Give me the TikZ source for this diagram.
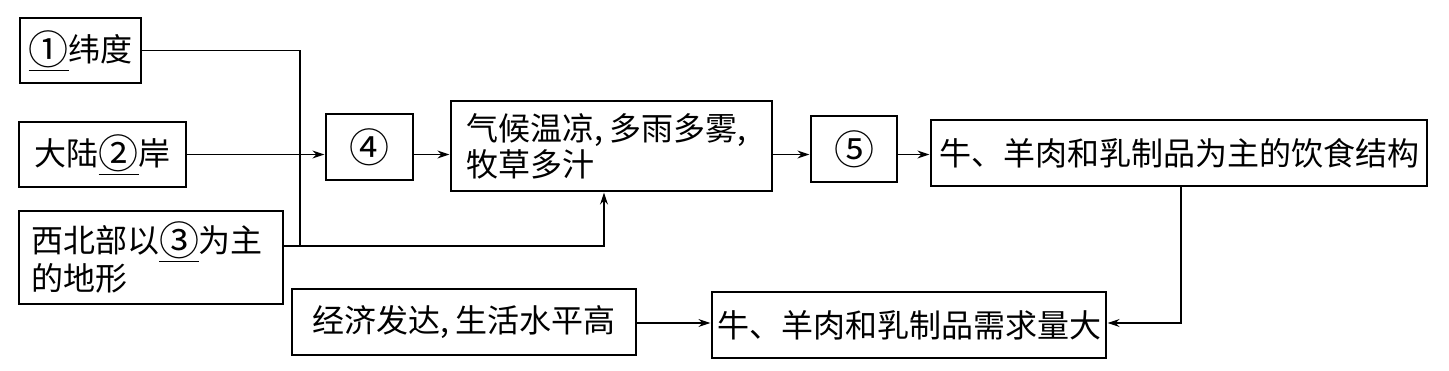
\documentclass[tikz,border=0pt]{standalone}
\usepackage{fontspec}
\setmainfont{Noto Sans CJK SC}
\usetikzlibrary{arrows.meta}
\newcommand\circnum[1]{\raisebox{-3pt}{\fontsize{40}{36}\selectfont #1}}
\newcommand\ulmark[1]{\leavevmode\vtop{\hbox{\circnum{#1}}\kern2pt\hrule height 1.2pt}}
\begin{document}
\begin{tikzpicture}[x=1pt,y=-1pt,
  box/.style={draw, line width=1.3pt, inner sep=0pt, font=\fontsize{32}{36}\selectfont},
  conn/.style={line width=1.3pt},
  arr/.style={conn,-{Stealth[length=12pt,width=8pt]},shorten >=1pt}]
\useasboundingbox (0,0) rectangle (1449,371);
\node[box,minimum width=121pt,minimum height=65pt] (b1) at (80.5,50.5) {\ulmark{①}纬度};
\node[box,minimum width=167pt,minimum height=65pt] (b2) at (102.5,154.5) {大陆\ulmark{②}岸};
\node[box,minimum height=93pt,align=left,text width=240pt,inner xsep=12pt] (b3) at (151,257.5) {西北部以\ulmark{③}为主\\的地形};
\node[box,minimum width=87pt,minimum height=66pt] (b4) at (369.5,147) {\circnum{④}};
\node[box,minimum height=90pt,align=left,text width=290pt,inner xsep=15.5pt] (b5) at (611.5,146) {气候温凉,\hspace{0.2em}多雨多雾,\\牧草多汁};
\node[box,minimum width=86pt,minimum height=66pt] (b6) at (854,149) {\circnum{⑤}};
\node[box,minimum width=496pt,minimum height=66pt] (b7) at (1179,153) {牛、羊肉和乳制品为主的饮食结构};
\node[box,minimum width=394pt,minimum height=66pt] (b8) at (909,325) {牛、羊肉和乳制品需求量大};
\node[box,minimum width=344pt,minimum height=66pt] (b9) at (464,322) {经济发达,\hspace{0.2em}生活水平高};
\coordinate (j) at (300,246);
\coordinate (k) at (604,246);
\coordinate (m) at (0,154.5);
\coordinate (n) at (1181,323);
\draw[conn] (b1.east) -| (j);
\draw[arr] (j -| b3.east) -- (k) -- (k |- b5.south);
\draw[arr] (b2.east) -- (b2.east -| b4.west);
\draw[arr] (b4.east |- m) -- (b5.west |- m);
\draw[arr] (b5.east |- m) -- (b6.west |- m);
\draw[arr] (b6.east |- m) -- (b7.west |- m);
\draw[arr] (n |- b7.south) -- (n) -- (n -| b8.east);
\draw[arr] (b9.east |- n) -- (b8.west |- n);
\end{tikzpicture}
\end{document}
